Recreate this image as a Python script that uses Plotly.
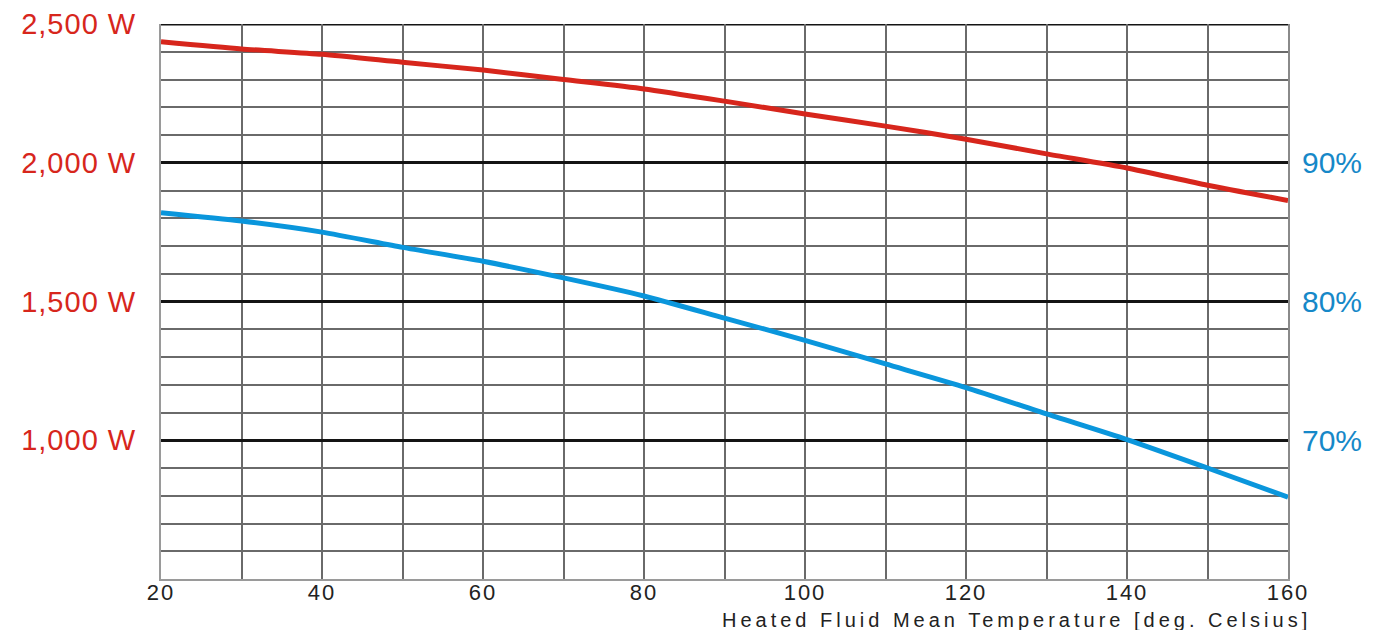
import plotly.graph_objects as go

temps = [20, 30, 40, 50, 60, 70, 80, 90, 100, 110, 120, 130, 140, 150, 160]
power_w = [2436, 2410, 2391, 2362, 2334, 2300, 2266, 2222, 2176, 2132, 2085, 2032, 1981, 1919, 1864]
efficiency_pct = [86.4, 85.8, 85.0, 83.9, 82.9, 81.7, 80.4, 78.8, 77.2, 75.5, 73.8, 71.9, 70.05, 68.0, 65.9]

x_ticks = [20, 40, 60, 80, 100, 120, 140, 160]
w_ticks = [1000, 1500, 2000, 2500]
w_labels = ["1,000 W", "1,500 W", "2,000 W", "2,500 W"]
pct_ticks = [70, 80, 90]
pct_labels = ["70%", "80%", "90%"]
x_title = "Heated Fluid Mean Temperature [deg. Celsius]"

RED = "#d7261c"
BLUE = "#0a96dc"
BLUE_TXT = "#1688c8"
FONT = "Liberation Sans, Arial, sans-serif"

fig = go.Figure()
fig.add_trace(go.Scatter(x=temps, y=power_w, mode="lines",
                         line=dict(color=RED, width=5, shape="spline", smoothing=0.6),
                         yaxis="y", showlegend=False, hoverinfo="skip"))
fig.add_trace(go.Scatter(x=temps, y=efficiency_pct, mode="lines",
                         line=dict(color=BLUE, width=5, shape="spline", smoothing=0.6),
                         yaxis="y2", showlegend=False, hoverinfo="skip"))

fig.update_layout(
    width=1383, height=630,
    margin=dict(l=161, r=95, t=24, b=51, autoexpand=False),
    paper_bgcolor="white", plot_bgcolor="white",
    font=dict(family=FONT),
    xaxis=dict(range=[20, 160], tickmode="array", tickvals=x_ticks,
               ticktext=[str(v) for v in x_ticks], automargin=False,
               showgrid=True, gridcolor="#6a6a6a", gridwidth=1.5,
               minor=dict(dtick=10, tick0=0, showgrid=True, gridcolor="#6a6a6a", gridwidth=1.5),
               showline=True, linecolor="#9a9a9a", linewidth=2, mirror=False,
               zeroline=False, ticks="",
               tickfont=dict(size=22, color="#222222", family=FONT),
               ticklabelstandoff=-7),
    yaxis=dict(range=[500, 2500], tickmode="array", tickvals=w_ticks, ticktext=w_labels,
               automargin=False,
               showgrid=True, gridcolor="#141414", gridwidth=2.5,
               minor=dict(dtick=100, tick0=0, showgrid=True, gridcolor="#6a6a6a", gridwidth=1.5),
               showline=True, linecolor="#9a9a9a", linewidth=2, zeroline=False, ticks="",
               tickfont=dict(size=29, color=RED, family=FONT),
               ticklabelstandoff=17),
    yaxis2=dict(range=[60, 100], overlaying="y", side="right", tickmode="array",
                tickvals=pct_ticks, ticktext=pct_labels, showgrid=False, zeroline=False,
                automargin=False, showline=True, linecolor="#8a8a8a", linewidth=2, ticks="",
                tickfont=dict(size=30, color=BLUE_TXT, family=FONT),
                ticklabelstandoff=6),
    shapes=[dict(type="line", xref="paper", yref="y", x0=0, x1=1,
                 y0=w_ticks[-1], y1=w_ticks[-1], line=dict(color="#141414", width=3),
                 layer="below")],
    annotations=[dict(text=x_title, xref="paper", yref="paper", x=0.759, y=-0.074,
                      xanchor="center", yanchor="middle", showarrow=False,
                      font=dict(size=20, color="#222222", family=FONT))],
)

post_js = """
document.body.style.margin = '0';
document.body.style.padding = '0';
var gd = document.getElementById('{plot_id}');
gd.querySelectorAll('.annotation-text').forEach(function(t){ t.style.letterSpacing = '4px'; });
gd.querySelectorAll('.xtick text').forEach(function(t){ t.style.letterSpacing = '2px'; });
gd.querySelectorAll('.ytick text').forEach(function(t){ t.style.letterSpacing = '1px'; });
"""

fig.write_html("out.html", post_script=post_js, config={"displayModeBar": False})
